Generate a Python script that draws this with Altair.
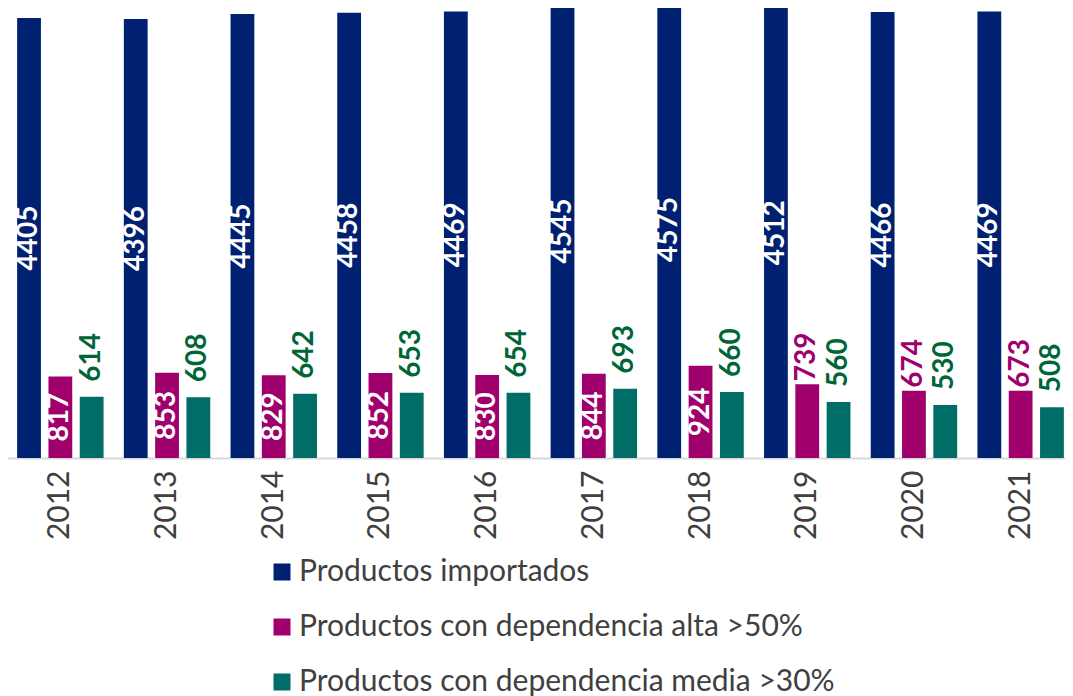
import altair as alt
import pandas as pd

years = ["2012", "2013", "2014", "2015", "2016", "2017", "2018", "2019", "2020", "2021"]
importados = [4405, 4396, 4445, 4458, 4469, 4545, 4575, 4512, 4466, 4469]
alta = [817, 853, 829, 852, 830, 844, 924, 739, 674, 673]
media = [614, 608, 642, 653, 654, 693, 660, 560, 530, 508]
series = [
    "Productos importados",
    "Productos con dependencia alta >50%",
    "Productos con dependencia media >30%",
]
colors = ["#002171", "#A0006B", "#006D66"]
alta_label_outside = ["2019", "2020", "2021"]

rows = []
for i, yr in enumerate(years):
    for s, vals in zip(series, [importados, alta, media]):
        rows.append({"year": yr, "serie": s, "value": vals[i]})
df = pd.DataFrame(rows)

FONT = "Lato"

x = alt.X(
    "year:N",
    sort=years,
    scale=alt.Scale(paddingInner=0.19, paddingOuter=0.095, range=[-1, 1066]),
    axis=alt.Axis(
        title=None,
        labelAngle=-90,
        ticks=False,
        tickSize=0,
        labelPadding=12,
        labelFont=FONT,
        labelFontSize=30,
        labelColor="#404040",
        domainColor="#D9D9D9",
        domainWidth=2,
        grid=False,
    ),
)
xo = alt.XOffset("serie:N", sort=series, scale=alt.Scale(domain=series, paddingInner=0.24, paddingOuter=0))
yscale = alt.Scale(domain=[0, 4505], nice=False, zero=True)

base = alt.Chart(df)

bars = base.mark_bar().encode(
    x=x,
    xOffset=xo,
    y=alt.Y("value:Q", scale=yscale, axis=None),
    color=alt.Color(
        "serie:N",
        sort=series,
        scale=alt.Scale(domain=series, range=colors),
        legend=alt.Legend(
            title=None,
            orient="none",
            legendX=259,
            legendY=549,
            direction="vertical",
            symbolType="square",
            symbolSize=289,
            symbolStrokeWidth=0,
            symbolOpacity=1,
            labelFont=FONT,
            labelFontSize=30,
            labelColor="#404040",
            labelOffset=2,
            labelLimit=1000,
            rowPadding=25,
            padding=0,
        ),
    ),
)

label_style = dict(angle=270, baseline="middle", font=FONT, fontWeight="bold", fontSize=28)

center_labels = (
    base.transform_filter(
        f"datum.serie == '{series[0]}' || (datum.serie == '{series[1]}' && indexof({alta_label_outside}, datum.year) < 0)"
    )
    .transform_calculate(mid="datum.value / 2")
    .mark_text(align="center", color="white", **label_style)
    .encode(x=x, xOffset=xo, y=alt.Y("mid:Q", scale=yscale, axis=None), text=alt.Text("value:Q"))
)

alta_out = (
    base.transform_filter(
        f"datum.serie == '{series[1]}' && indexof({alta_label_outside}, datum.year) >= 0"
    )
    .mark_text(align="left", dx=3, color="#A0006B", **label_style)
    .encode(x=x, xOffset=xo, y=alt.Y("value:Q", scale=yscale, axis=None), text=alt.Text("value:Q"))
)

media_labels = (
    base.transform_filter(f"datum.serie == '{series[2]}'")
    .mark_text(align="left", dx=15, color="#006637", **label_style)
    .encode(x=x, xOffset=xo, y=alt.Y("value:Q", scale=yscale, axis=None), text=alt.Text("value:Q"))
)

chart = (
    alt.layer(bars, center_labels, alta_out, media_labels)
    .properties(
        width=1057,
        height=450,
        autosize=alt.AutoSizeParams(type="none"),
        padding={"left": 0, "top": 0, "right": 0, "bottom": 262},
    )
    .configure_view(stroke=None)
)

chart.save("out.html", embed_options={"renderer": "svg", "actions": False})
